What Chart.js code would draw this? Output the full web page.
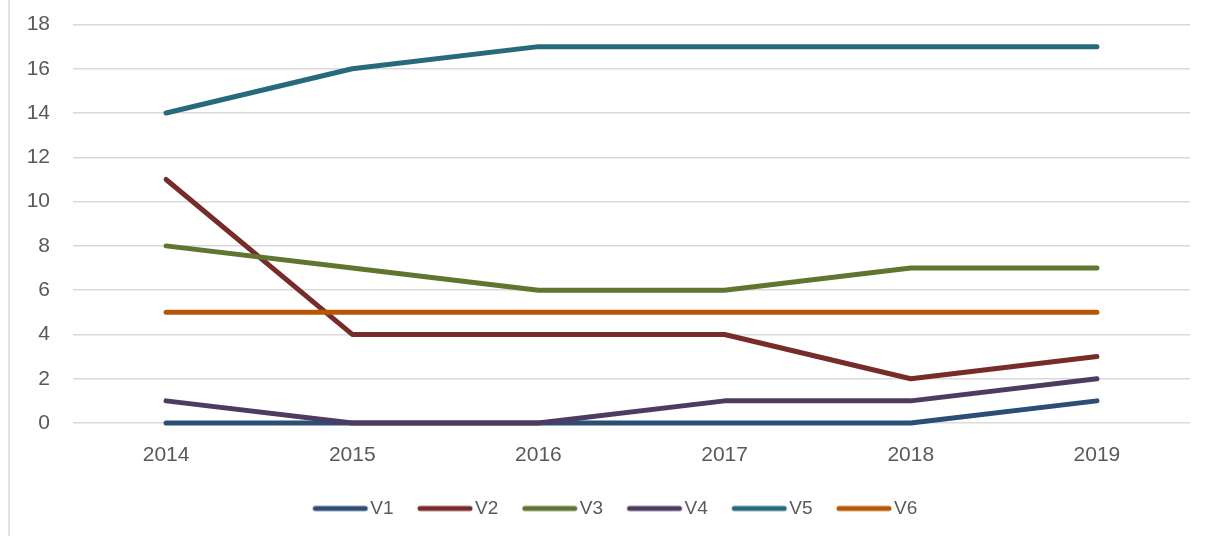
<!DOCTYPE html>
<html>
<head>
<meta charset="utf-8">
<script src="https://cdn.jsdelivr.net/npm/chart.js@4.4.1/dist/chart.umd.min.js"></script>
<style>
  html, body { margin: 0; padding: 0; background: #ffffff; }
  #wrap { width: 1208px; height: 536px; position: relative; }
</style>
</head>
<body>
<div id="wrap"><canvas id="c" width="1208" height="536"></canvas></div>
<script>
const categories = ['2014', '2015', '2016', '2017', '2018', '2019'];
const seriesNames = ['V1', 'V2', 'V3', 'V4', 'V5', 'V6'];
const v1 = [0, 0, 0, 0, 0, 1];
const v2 = [11, 4, 4, 4, 2, 3];
const v3 = [8, 7, 6, 6, 7, 7];
const v4 = [1, 0, 0, 1, 1, 2];
const v5 = [14, 16, 17, 17, 17, 17];
const v6 = [5, 5, 5, 5, 5, 5];
const yTicks = [0, 2, 4, 6, 8, 10, 12, 14, 16, 18];

const seriesValues = [v1, v2, v3, v4, v5, v6];
const colors = ['#2C4D75', '#772C2A', '#5F7530', '#4D3B62', '#276A7C', '#B65708'];

// legend symbol: a short thick line with round caps
function legendLine(color) {
  const c = document.createElement('canvas');
  c.width = 58; c.height = 8;
  const g = c.getContext('2d');
  g.strokeStyle = color;
  g.lineWidth = 5;
  g.lineCap = 'round';
  g.beginPath();
  g.moveTo(4, 4);
  g.lineTo(54, 4);
  g.stroke();
  return c;
}

const datasets = seriesNames.map((name, i) => ({
  label: name,
  data: seriesValues[i],
  borderColor: colors[i],
  backgroundColor: colors[i],
  borderWidth: 5,
  borderCapStyle: 'round',
  borderJoinStyle: 'round',
  pointRadius: 0,
  pointHoverRadius: 0,
  tension: 0,
  fill: false,
  clip: false,
  order: seriesNames.length - i
}));

const leftBorder = {
  id: 'leftBorder',
  beforeDraw(chart) {
    const ctx = chart.ctx;
    ctx.save();
    ctx.strokeStyle = '#d9d9d9';
    ctx.lineWidth = 1.5;
    ctx.beginPath();
    ctx.moveTo(9, 0);
    ctx.lineTo(9, chart.height);
    ctx.stroke();
    ctx.restore();
  }
};

const legendShift = {
  id: 'legendShift',
  afterLayout(chart) {
    if (chart.legend) {
      chart.legend.left += 19;
      chart.legend.right += 19;
    }
  }
};

new Chart(document.getElementById('c'), {
  type: 'line',
  data: { labels: categories, datasets },
  plugins: [leftBorder, legendShift],
  options: {
    responsive: false,
    animation: false,
    devicePixelRatio: 1,
    layout: { padding: { left: 9, right: 18, top: 24.5, bottom: 8 } },
    plugins: {
      tooltip: { enabled: false },
      legend: {
        position: 'bottom',
        labels: {
          usePointStyle: true,
          pointStyleWidth: 41,
          padding: 31,
          color: '#595959',
          font: { family: 'Liberation Sans', size: 19 },
          sort: (a, b) => a.datasetIndex - b.datasetIndex,
          generateLabels(chart) {
            return chart.data.datasets.map((ds, i) => ({
              text: ds.label,
              fillStyle: ds.borderColor,
              strokeStyle: ds.borderColor,
              lineWidth: 0,
              pointStyle: legendLine(ds.borderColor),
              hidden: false,
              datasetIndex: i,
              fontColor: '#595959'
            }));
          }
        }
      }
    },
    scales: {
      x: {
        offset: true,
        grid: { display: false, drawTicks: false },
        border: { display: false },
        ticks: {
          padding: 20,
          color: '#595959',
          font: { family: 'Liberation Sans', size: 21 },
          maxRotation: 0
        },
        afterFit(scale) { scale.height = 45; }
      },
      y: {
        min: 0,
        max: 18,
        afterBuildTicks(scale) { scale.ticks = yTicks.map(v => ({ value: v })); },
        grid: { color: '#d9d9d9', lineWidth: 1.5, drawTicks: false },
        border: { display: false },
        ticks: {
          padding: 23,
          color: '#595959',
          font: { family: 'Liberation Sans', size: 21 }
        },
        afterFit(scale) {
          scale.width = 64;
          scale.paddingTop = 0;
          scale.paddingBottom = 0;
        }
      }
    }
  }
});
</script>
</body>
</html>
